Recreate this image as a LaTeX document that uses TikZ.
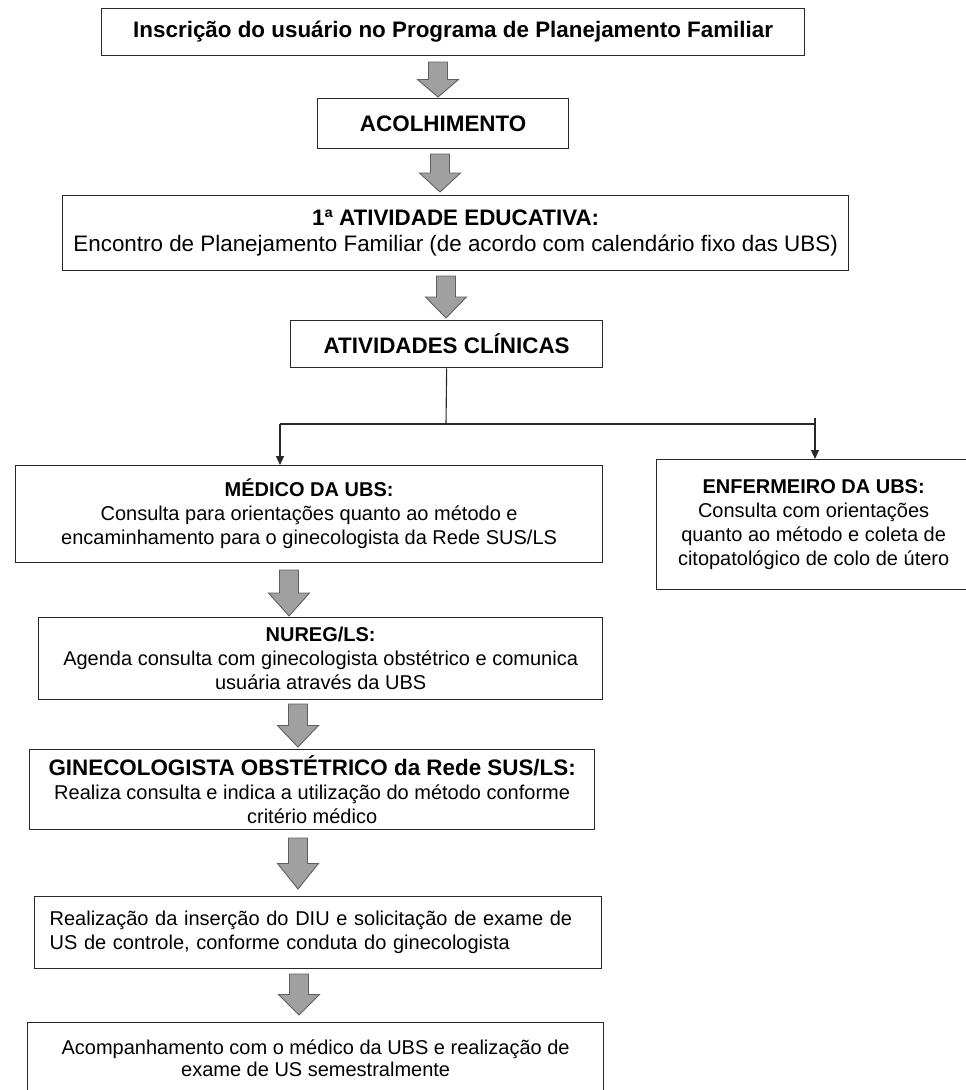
\documentclass[tikz,border=0pt]{standalone}
\usepackage{fontspec}
\setmainfont{Liberation Sans}
\usetikzlibrary{calc,arrows.meta}
\definecolor{cinzaseta}{RGB}{160,160,160}
\definecolor{bordaseta}{RGB}{95,95,95}
\definecolor{linha}{RGB}{40,40,40}

\tikzset{
	caixa/.style={draw=linha, line width=1.3pt, rectangle, inner sep=0pt, anchor=north west, align=center, font=\fontsize{20}{24}\selectfont},
	grande/.style={font=\fontsize{22.4}{25.5}\selectfont},
	setabloco/.style={fill=cinzaseta, draw=bordaseta, line width=0.9pt,
		to path={let \p1=(\tikztostart), \p2=(\tikztotarget), \p3=($(\tikztostart)!0.5!(\tikztotarget)$) in
			(\x1-9.5pt,\y1) -- (\x1+9.5pt,\y1) -- (\x1+9.5pt,\y3) -- (\x1+20.5pt,\y3) -- (\x1,\y2)
			-- (\x1-20.5pt,\y3) -- (\x1-9.5pt,\y3) -- cycle}},
	ligacao/.style={draw=linha, line width=1.1pt},
	ponta/.style={-{Triangle[length=9pt,width=8pt]}}
}

\begin{document}
\begin{tikzpicture}[x=1pt, y=-1pt]
		\useasboundingbox (0,0) rectangle (966,1090);
		\clip (0,0) rectangle (966,1090);
		% Caixas
			\node[caixa, grande, minimum width=703pt, minimum height=47pt] (inscricao) at (101,8) {\textbf{Inscrição do usuário no Programa de Planejamento Familiar}};
			\node[caixa, grande, minimum width=251pt, minimum height=50pt] (acolhimento) at (317,98) {\textbf{ACOLHIMENTO}};
			\node[caixa, grande, minimum width=786pt, minimum height=75pt] (educativa) at (62,195) {\textbf{1ª ATIVIDADE EDUCATIVA:}\\Encontro de Planejamento Familiar (de acordo com calendário fixo das UBS)};
			\node[caixa, grande, minimum width=312pt, minimum height=47pt] (clinicas) at (290,320) {\textbf{ATIVIDADES CLÍNICAS}};
			\node[caixa, minimum width=587pt, minimum height=97pt] (medico) at (15,465) {\textbf{MÉDICO DA UBS:}\\Consulta para orientações quanto ao método e\\encaminhamento para o ginecologista da Rede SUS/LS};
			\node[caixa, minimum width=314pt, minimum height=130pt] (enfermeiro) at (656,459) {\textbf{ENFERMEIRO DA UBS:}\\Consulta com orientações\\quanto ao método e coleta de\\citopatológico de colo de útero};
			\node[caixa, minimum width=564pt, minimum height=82pt] (nureg) at (38,617) {\textbf{NUREG/LS:}\\Agenda consulta com ginecologista obstétrico e comunica\\usuária através da UBS};
			\node[caixa, minimum width=565pt, minimum height=80pt] (gineco) at (29,749) {{\fontsize{22.4}{24}\selectfont\bfseries GINECOLOGISTA OBSTÉTRICO da Rede SUS/LS:}\\Realiza consulta e indica a utilização do método conforme\\critério médico};
			\node[caixa, minimum width=567pt, minimum height=72pt, text width=537pt, align=left] (insercao) at (34,896) {Realização da inserção do DIU e solicitação de exame de\\US de controle, conforme conduta do ginecologista};
			\node[caixa, minimum width=576pt, minimum height=72pt, font=\fontsize{20}{22}\selectfont] (acompanhamento) at (27,1022) {Acompanhamento com o médico da UBS e realização de\\exame de US semestralmente};
		% Setas cinzas
			\coordinate (s1a) at (438,62);   \coordinate (s1b) at (438,97);
			\coordinate (s2a) at (440,154);  \coordinate (s2b) at (440,192);
			\coordinate (s3a) at (446,276);  \coordinate (s3b) at (446,318);
			\coordinate (s4a) at (289,570);  \coordinate (s4b) at (289,616);
			\coordinate (s5a) at (298,704);  \coordinate (s5b) at (298,747);
			\coordinate (s6a) at (298,838);  \coordinate (s6b) at (298,889);
			\coordinate (s7a) at (299,974);  \coordinate (s7b) at (299,1015);
			\foreach \s in {1,...,7}
				\draw[setabloco] (s\s a) to (s\s b);
		% Ramos das atividades clinicas
			\coordinate (juncao) at (446,424);
			\coordinate (ramoesq) at (280,424);
			\coordinate (ramodir) at (815,418);
			\draw[ligacao] (clinicas.south) -- (juncao);
			\draw[ligacao] (ramoesq) -- (ramodir |- ramoesq);
			\draw[ligacao, ponta] (ramoesq) -- (ramoesq |- medico.north);
			\draw[ligacao, ponta] (ramodir) -- (ramodir |- enfermeiro.north);
\end{tikzpicture}
\end{document}
